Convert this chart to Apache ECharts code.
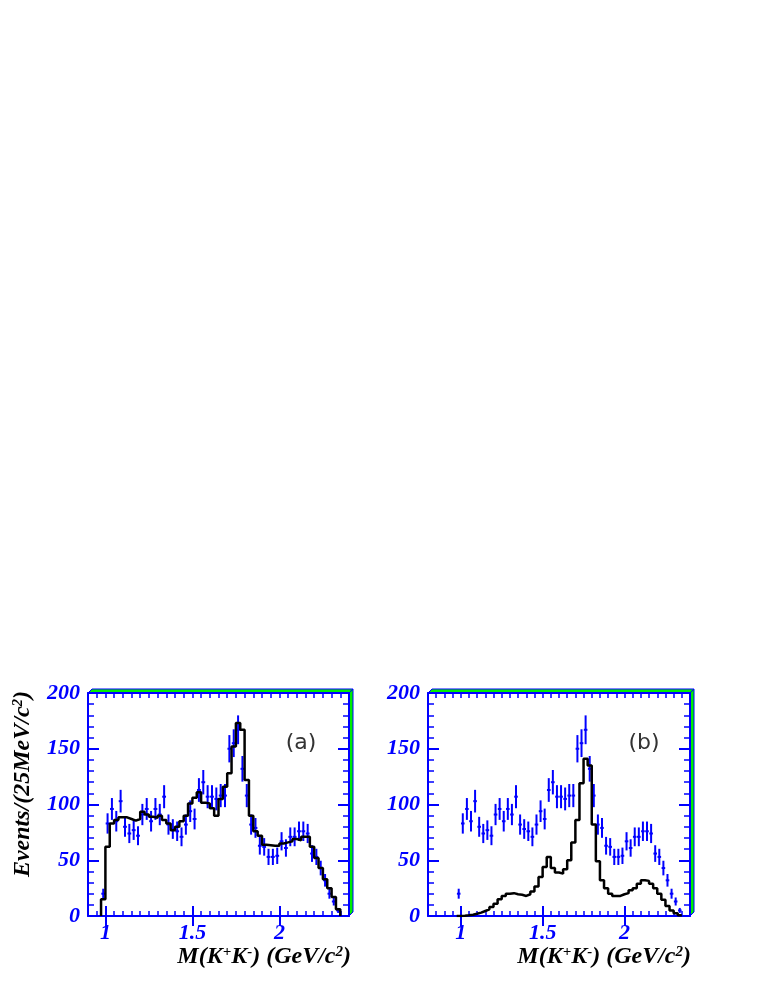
<!DOCTYPE html>
<html>
<head>
<meta charset="utf-8">
<script src="https://cdn.jsdelivr.net/npm/echarts@6/dist/echarts.min.js"></script>
<style>
html, body { margin: 0; padding: 0; background: #fff; }
#chart { width: 763px; height: 987px; }
</style>
</head>
<body>
<div id="chart"></div>
<script>
// 25 MeV bins, first bin starts at 0.975 GeV
const binStart = 0.975
const binWidth = 0.025

// measured events per bin (same data in both panels)
const dataCounts = [20, 83, 96, 85, 103, 80, 74, 77, 72, 91, 96, 85, 96, 91, 107, 82, 78, 76, 71, 82,
  94, 87, 113, 120, 107, 107, 105, 108, 108, 150, 155, 167, 132, 108, 82, 79, 63, 62, 53, 53,
  54, 67, 61, 71, 71, 76, 76, 74, 56, 53, 43, 32, 20, 13, 5]

// histogram in panel (a)
const fitA = [15, 62, 83, 86, 88.5, 88.5, 87, 85.5, 87, 93.6, 91, 89, 88, 90, 86, 83, 77, 80, 85, 90,
  101, 106, 111, 101.6, 101, 96.6, 90, 105, 116, 128, 152, 173, 167, 122, 90, 76, 72, 64, 63.5, 63,
  63, 65, 66, 67, 69, 68, 71, 71, 62, 52, 43, 33, 25, 17, 6]

// histogram in panel (b)
const fitB = [0, 0.2, 0.6, 1.2, 2, 3, 4.5, 6, 8, 11, 15, 18, 20, 20.5, 19.5, 19, 18, 19.5, 22, 26.5,
  35, 44, 53, 43, 39, 38, 42, 50, 66, 86, 119, 141, 135, 82, 49, 32, 25, 20, 18, 18,
  19.5, 20.5, 23, 25, 29, 32, 31.5, 29, 25, 20, 14.5, 9, 5, 2.5, 0.6]

const xMajorTicks = [1, 1.5, 2]
const xMinA = 0.9
const xMinB = 0.8
const xMax = 2.4
const yMax = 200

const blue = '#0000ff'
const green = '#00ee00'
const serif = '"Liberation Serif", "DejaVu Serif", serif'
const tickFont = { color: blue, fontFamily: serif, fontWeight: 'bold', fontStyle: 'italic', fontSize: 22 }

function stepLine(vals) {
  // edges of each bin -> step line
  const pts = [[binStart, 0]]
  vals.forEach((v, i) => pts.push([binStart + i * binWidth, v]))
  pts.push([binStart + vals.length * binWidth, vals[vals.length - 1]])
  pts.push([binStart + vals.length * binWidth, 0])
  return pts
}

function points() {
  // poisson error bars
  return dataCounts.map((v, i) => [binStart + (i + 0.5) * binWidth, v, Math.sqrt(v)])
}

function renderCross(params, api) {
  const x = api.value(0), v = api.value(1), e = api.value(2)
  const top = api.coord([x, v + e]), bot = api.coord([x, v - e])
  const l = api.coord([x - 0.011, v]), r = api.coord([x + 0.011, v])
  const st = { stroke: blue, lineWidth: 2 }
  return {
    type: 'group',
    children: [
      { type: 'line', shape: { x1: top[0], y1: top[1], x2: bot[0], y2: bot[1] }, style: st },
      { type: 'line', shape: { x1: l[0], y1: l[1], x2: r[0], y2: r[1] }, style: st }
    ]
  }
}

function xAxes(g, min) {
  const base = { gridIndex: g, type: 'value', min: min, max: xMax, splitLine: { show: false } }
  const line = { show: true, onZero: false, lineStyle: { color: blue, width: 2 } }
  return [
    Object.assign({}, base, {
      position: 'bottom', interval: 0.05, axisLine: line,
      axisTick: { inside: true, length: 5, lineStyle: { color: blue, width: 1.5 } },
      axisLabel: Object.assign({ customValues: xMajorTicks, formatter: v => String(v), margin: 6 }, tickFont)
    }),
    Object.assign({}, base, {
      position: 'bottom', axisLine: { show: false },
      axisTick: { inside: true, length: 10, customValues: xMajorTicks, lineStyle: { color: blue, width: 2 } },
      axisLabel: { show: false }
    }),
    Object.assign({}, base, {
      position: 'top', interval: 0.05, axisLine: line,
      axisTick: { inside: true, length: 5, lineStyle: { color: blue, width: 1.5 } },
      axisLabel: { show: false }
    }),
    Object.assign({}, base, {
      position: 'top', axisLine: { show: false },
      axisTick: { inside: true, length: 10, customValues: xMajorTicks, lineStyle: { color: blue, width: 2 } },
      axisLabel: { show: false }
    })
  ]
}

function yAxes(g) {
  const base = {
    gridIndex: g, type: 'value', min: 0, max: yMax, interval: 50, splitLine: { show: false },
    axisLine: { show: true, onZero: false, lineStyle: { color: blue, width: 2 } },
    axisTick: { inside: true, length: 11, lineStyle: { color: blue, width: 2 } },
    minorTick: { show: true, splitNumber: 5, length: 6, lineStyle: { color: blue, width: 1.5 } }
  }
  return [
    Object.assign({}, base, { position: 'left', axisLabel: Object.assign({ margin: 8 }, tickFont) }),
    Object.assign({}, base, { position: 'right', axisLabel: { show: false } })
  ]
}

function box(l, t, w, h) {
  const d = 4
  const st = { fill: green, stroke: blue, lineWidth: 1 }
  return [
    { type: 'polygon', shape: { points: [[l, t], [l + d, t - d], [l + w + d, t - d], [l + w, t]] }, style: st },
    { type: 'polygon', shape: { points: [[l + w, t], [l + w + d, t - d], [l + w + d, t + h - d], [l + w, t + h]] }, style: st }
  ]
}

const titleFont = { fontFamily: serif, fontWeight: 'bold', fontStyle: 'italic', fontSize: 24, fill: '#000' }
const supStyle = { fontSize: 15, verticalAlign: 'top', fontFamily: serif, fontWeight: 'bold', fontStyle: 'italic' }
const massLabel = 'M(K{sup|+}K{sup|-}) (GeV/c{sup|2})'

const chart = echarts.init(document.getElementById('chart'))
chart.setOption({
  animation: false,
  backgroundColor: '#fff',
  grid: [
    { left: 88, top: 693, width: 261, height: 223, outerBoundsMode: 'none' },
    { left: 428, top: 693, width: 262, height: 223, outerBoundsMode: 'none' }
  ],
  xAxis: xAxes(0, xMinA).concat(xAxes(1, xMinB)),
  yAxis: yAxes(0).concat(yAxes(1)),
  series: [
    { type: 'custom', xAxisIndex: 0, yAxisIndex: 0, renderItem: renderCross, data: points(), z: 3 },
    { type: 'line', xAxisIndex: 0, yAxisIndex: 0, step: 'end', symbol: 'none', data: stepLine(fitA),
      lineStyle: { color: '#000', width: 2.5 }, z: 4 },
    { type: 'custom', xAxisIndex: 4, yAxisIndex: 2, renderItem: renderCross, data: points(), z: 3 },
    { type: 'line', xAxisIndex: 4, yAxisIndex: 2, step: 'end', symbol: 'none', data: stepLine(fitB),
      lineStyle: { color: '#000', width: 2.5 }, z: 4 }
  ],
  graphic: box(88, 693, 261, 223).concat(box(428, 693, 262, 223)).concat([
    { type: 'text', x: 23, y: 784, rotation: Math.PI / 2,
      style: Object.assign({ text: 'Events/(25MeV/c{sup|2})', align: 'center', verticalAlign: 'middle', rich: { sup: supStyle } }, titleFont) },
    { type: 'text', x: 351, y: 957,
      style: Object.assign({ text: massLabel, align: 'right', verticalAlign: 'middle', rich: { sup: supStyle } }, titleFont) },
    { type: 'text', x: 691, y: 957,
      style: Object.assign({ text: massLabel, align: 'right', verticalAlign: 'middle', rich: { sup: supStyle } }, titleFont) },
    { type: 'text', x: 301, y: 743,
      style: { text: '(a)', align: 'center', verticalAlign: 'middle', fontFamily: '"DejaVu Sans", sans-serif', fontSize: 22, fill: '#333' } },
    { type: 'text', x: 644, y: 743,
      style: { text: '(b)', align: 'center', verticalAlign: 'middle', fontFamily: '"DejaVu Sans", sans-serif', fontSize: 22, fill: '#333' } }
  ])
})
</script>
</body>
</html>
